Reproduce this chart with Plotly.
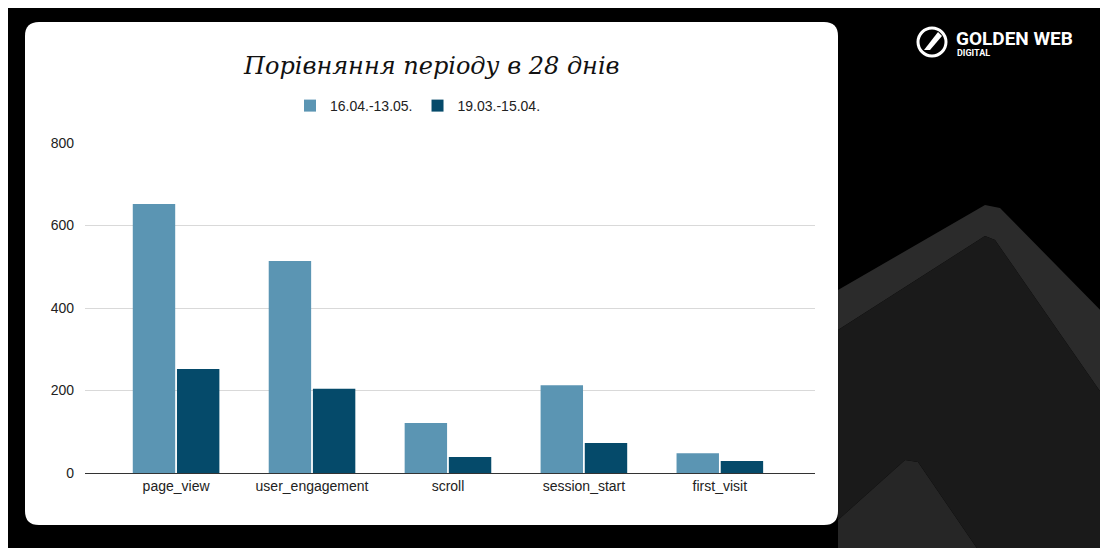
import plotly.graph_objects as go

categories = ["page_view", "user_engagement", "scroll", "session_start", "first_visit"]
series_names = ["16.04.-13.05.", "19.03.-15.04."]
values_new = [652, 514, 121, 213, 48]
values_old = [252, 204, 39, 73, 29]
colors = ["#5b95b3", "#054a6a"]

W, H = 1108, 548
OFF = 8  # page offset of the figure in the browser
L, R, T, B = 85, 815, 143, 473

def px(x):
    return (x - L) / (R - L)

def py(y):
    return (B - y) / (B - T)

def path(pts):
    return "M " + " L ".join(f"{px(x)},{py(y)}" for x, y in pts) + " Z"

fig = go.Figure()
for name, vals, c in zip(series_names, [values_new, values_old], colors):
    fig.add_bar(x=list(range(len(categories))), y=vals, name=name, marker_color=c, marker_line_width=0)

shapes = []
shapes.append(dict(type="path", xref="paper", yref="paper", layer="below",
    path=path([(838, 290), (985, 205), (1000, 208), (1120, 330), (1120, 420), (995, 240), (985, 236), (838, 330)]),
    fillcolor="#2b2b2b", line_width=0))
shapes.append(dict(type="path", xref="paper", yref="paper", layer="below",
    path=path([(1020, 400), (1045, 375), (1120, 455), (1120, 560), (1100, 560)]),
    fillcolor="#333333", line_width=0))
shapes.append(dict(type="path", xref="paper", yref="paper", layer="below",
    path=path([(838, 520), (905, 460), (918, 462), (985, 560), (838, 560)]),
    fillcolor="#262626", line_width=0))
shapes.append(dict(type="path", xref="paper", yref="paper", layer="below",
    path=path([(838, 330), (985, 236), (995, 240), (1120, 420), (1120, 560), (985, 560), (918, 462), (905, 460), (838, 520)]),
    fillcolor="#1a1a1a", line_width=0))
x0, x1, y0, y1, r = 25, 838, 22, 525, 14
card = (f"M {px(x0+r)},{py(y0)} L {px(x1-r)},{py(y0)} Q {px(x1)},{py(y0)} {px(x1)},{py(y0+r)} "
        f"L {px(x1)},{py(y1-r)} Q {px(x1)},{py(y1)} {px(x1-r)},{py(y1)} "
        f"L {px(x0+r)},{py(y1)} Q {px(x0)},{py(y1)} {px(x0)},{py(y1-r)} "
        f"L {px(x0)},{py(y0+r)} Q {px(x0)},{py(y0)} {px(x0+r)},{py(y0)} Z")
shapes.append(dict(type="path", xref="paper", yref="paper", layer="below",
    path=card, fillcolor="white", line_width=0))

annotations = [
    dict(text="<i>Порівняння періоду в 28 днів</i>", xref="paper", yref="paper",
         x=px(431), y=py(66), showarrow=False, xanchor="center", yanchor="middle",
         font=dict(family="DejaVu Serif", size=24, color="#111")),
    dict(text="<b>GOLDEN WEB</b>", xref="paper", yref="paper", x=px(954), y=py(38),
         showarrow=False, xanchor="left", yanchor="middle",
         font=dict(family="Roboto", size=19, color="white")),
    dict(text="<b>DIGITAL</b>", xref="paper", yref="paper", x=px(955), y=py(53),
         showarrow=False, xanchor="left", yanchor="middle",
         font=dict(family="Roboto", size=9, color="white")),
]
shapes.append(dict(type="circle", xref="paper", yref="paper",
    x0=px(918), x1=px(946), y0=py(28), y1=py(56), line=dict(color="white", width=3)))
shapes.append(dict(type="path", xref="paper", yref="paper",
    path=path([(924, 50), (938, 32), (942, 36), (930, 50)]), fillcolor="white", line_width=0))

fig.update_layout(
    width=W, height=H, margin=dict(l=L - OFF, r=W - R + OFF, t=T - OFF, b=H - B + OFF),
    paper_bgcolor="black", plot_bgcolor="rgba(0,0,0,0)",
    barmode="group", bargap=0.35, bargroupgap=0.04,
    shapes=shapes, annotations=annotations,
    legend=dict(orientation="h", x=px(418), xanchor="center", y=py(106), yanchor="middle",
                font=dict(family="Arial", size=14, color="#222"), bgcolor="rgba(0,0,0,0)"),
    font=dict(family="Arial", size=14, color="#222"),
    xaxis=dict(showgrid=False, showline=True, linecolor="#333", linewidth=1,
               tickmode="array", tickvals=list(range(len(categories))), ticktext=categories,
               range=[-0.67, 4.70], tickfont=dict(size=14, color="#222")),
    yaxis=dict(range=[0, 800], dtick=200, gridcolor="#d9d9d9", zeroline=False,
               tickfont=dict(size=14, color="#222"), ticklabelstandoff=10),
)
fig.write_html("out.html")
